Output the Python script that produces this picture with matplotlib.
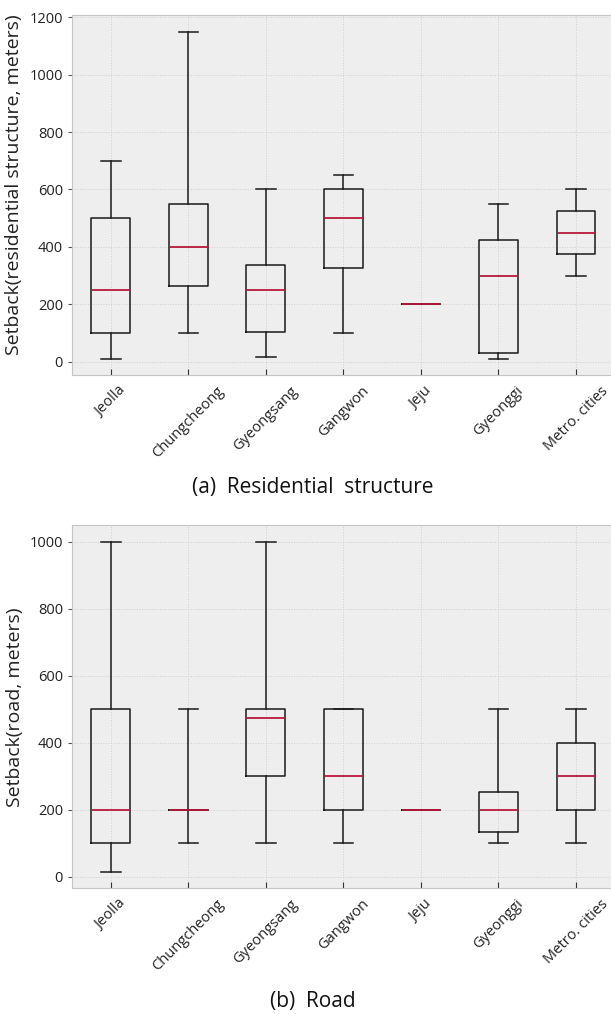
import numpy as np
import matplotlib
matplotlib.use('Agg')
import matplotlib.pyplot as plt

plt.style.use('bmh')
plt.rcParams['font.family'] = ['Open Sans', 'DejaVu Sans']

REGIONS = ['Jeolla', 'Chungcheong', 'Gyeongsang', 'Gangwon', 'Jeju',
           'Gyeonggi', 'Metro. cities']

# five-number summaries per region: whisker low, q1, median, q3, whisker high
RES_LOW = [10, 100, 15, 100, 200, 10, 300]
RES_Q1 = [100, 262, 105, 325, 200, 30, 375]
RES_MED = [250, 400, 250, 500, 200, 300, 450]
RES_Q3 = [500, 550, 338, 600, 200, 425, 525]
RES_HIGH = [700, 1150, 600, 650, 200, 550, 600]

ROAD_LOW = [15, 100, 100, 100, 200, 100, 100]
ROAD_Q1 = [100, 200, 300, 200, 200, 135, 200]
ROAD_MED = [200, 200, 475, 300, 200, 200, 300]
ROAD_Q3 = [500, 200, 500, 500, 200, 252, 400]
ROAD_HIGH = [1000, 500, 1000, 500, 200, 500, 500]


def make_stats(labels, low, q1, med, q3, high):
    stats = []
    for lab, a, b, c, d, e in zip(labels, low, q1, med, q3, high):
        stats.append({'label': lab, 'whislo': a, 'q1': b, 'med': c,
                      'q3': d, 'whishi': e, 'fliers': []})
    return stats


def draw_panel(ax, stats, ylabel):
    ax.bxp(stats, showfliers=False,
           boxprops=dict(color='#1a1a1a', linewidth=1.1),
           whiskerprops=dict(color='#1a1a1a', linewidth=1.1),
           capprops=dict(color='#1a1a1a', linewidth=1.1),
           medianprops=dict(color='#b8163c', linewidth=1.3))
    ax.set_facecolor('#eeeeee')
    ax.grid(True, color='#cfcfcf', linestyle=':', linewidth=0.7)
    for side in ['left', 'bottom', 'top']:
        ax.spines[side].set_color('#c4c4c4')
    ax.spines['right'].set_visible(False)
    ax.set_ylabel(ylabel, fontsize=14, color='#222222')
    ax.tick_params(axis='x', direction='in', length=4, color='#333333',
                   labelsize=10.5, labelcolor='#222222', top=False, pad=6)
    ax.tick_params(axis='y', direction='out', length=3, color='#555555',
                   labelsize=10.5, labelcolor='#222222', right=False)
    plt.setp(ax.get_xticklabels(), rotation=45, ha='center')
    ax.margins(y=0.05)


fig = plt.figure(figsize=(6.11, 10.14), dpi=100)
fig.patch.set_facecolor('white')

ax1 = fig.add_axes([0.118, 0.630, 0.888, 0.355])
draw_panel(ax1, make_stats(REGIONS, RES_LOW, RES_Q1, RES_MED, RES_Q3, RES_HIGH),
           'Setback(residential structure, meters)')
ax1.set_yticks([0, 200, 400, 600, 800, 1000, 1200])
ax1.yaxis.set_label_coords(-0.09, 0.53)

ax2 = fig.add_axes([0.118, 0.124, 0.888, 0.358])
draw_panel(ax2, make_stats(REGIONS, ROAD_LOW, ROAD_Q1, ROAD_MED, ROAD_Q3, ROAD_HIGH),
           'Setback(road, meters)')
ax2.set_yticks([0, 200, 400, 600, 800, 1000])

fig.text(0.512, 1 - 488 / 1014, '(a)  Residential  structure', ha='center',
         va='center', fontsize=15, color='#111111')
fig.text(0.512, 1 - 1001 / 1014, '(b)  Road', ha='center', va='center',
         fontsize=15, color='#111111')

fig.savefig('out.png', dpi=100, facecolor='white')
